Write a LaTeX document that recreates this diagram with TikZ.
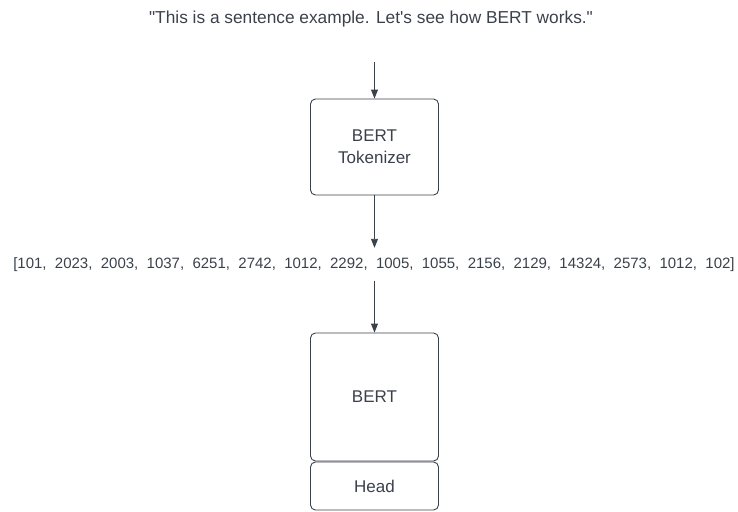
\documentclass[tikz,border=0pt]{standalone}
\usepackage{fontspec}
\setmainfont{Liberation Sans}[Ligatures=TeXOff]
\usetikzlibrary{arrows.meta}
\definecolor{ink}{HTML}{3B414B}
\begin{document}
\begin{tikzpicture}[x=1pt,y=-1pt,
  boxstyle/.style={draw=ink, line width=0.9pt, rounded corners=5pt, minimum width=128pt, inner sep=0pt, align=center, text=ink, font=\fontsize{17}{22}\selectfont},
  lbl/.style={text=ink, inner sep=0pt},
  conn/.style={draw=ink, line width=0.9pt, -{Triangle[length=9pt,width=7pt]}}]
\useasboundingbox (0,0) rectangle (738,511);
\node[lbl, font=\fontsize{17.3}{20}\selectfont] (title) at (371,19) {"This is a sentence example. Let's see how BERT works."};
\coordinate (start) at (374.5,62);
\node[boxstyle, minimum height=96pt] (tok) at (374.5,147) {BERT\\Tokenizer};
\node[lbl, font=\fontsize{15}{18}\selectfont, minimum height=33pt] (ids) at (374,264.5) {[101,\ \ 2023,\ \ 2003,\ \ 1037,\ \ 6251,\ \ 2742,\ \ 1012,\ \ 2292,\ \ 1005,\ \ 1055,\ \ 2156,\ \ 2129,\ \ 14324,\ \ 2573,\ \ 1012,\ \ 102]};
\node[boxstyle, minimum height=128pt] (bert) at (374.5,397) {BERT};
\node[boxstyle, minimum height=48pt] (head) at (374.5,486) {Head};
\draw[conn] (start) -- (tok.north);
\draw[conn] (tok.south) -- (ids.north -| tok.south);
\draw[conn] (ids.south -| bert.north) -- (bert.north);
\end{tikzpicture}
\end{document}
